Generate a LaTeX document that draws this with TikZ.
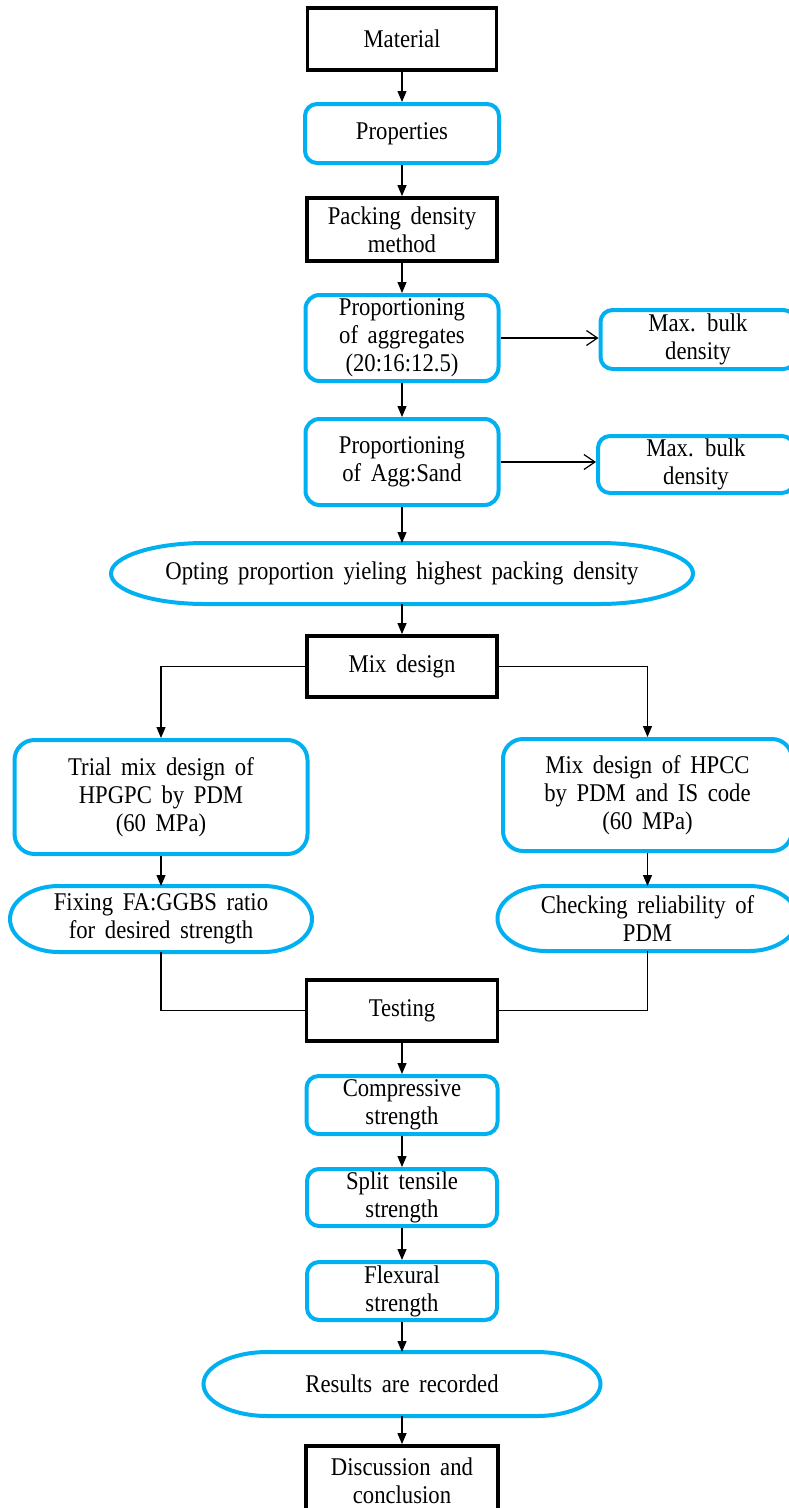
\documentclass[tikz,border=0pt]{standalone}
\usepackage{fontspec}
\setmainfont[FakeStretch=0.89,WordSpace=1.7]{Liberation Serif}
\usetikzlibrary{arrows.meta,calc}
\definecolor{boxblue}{RGB}{0,176,240}

% outline of a terminator box round a named node
\newcommand{\termoutline}[1]{%
  \draw[boxblue,line width=4pt] let \p1=(#1.north west), \p2=(#1.south east),
    \n1={0.161*(\x2-\x1)}, \n2={0.5*(\y1-\y2)} in
    (\x1+\n1,\y1) -- (\x2-\n1,\y1)
    arc[start angle=90,end angle=-90,x radius=\n1,y radius=\n2]
    -- (\x1+\n1,\y2)
    arc[start angle=270,end angle=90,x radius=\n1,y radius=\n2] -- cycle;}

\begin{document}
\begin{tikzpicture}[x=1pt,y=-1pt,
  every node/.style={font=\fontsize{25.5}{28}\selectfont,align=center,inner sep=0pt},
  blackbox/.style={draw=black,line width=3.8pt,rectangle},
  bluebox/.style={draw=boxblue,line width=4pt,rectangle,rounded corners=#1},
  bluebox/.default=12pt,
  termbox/.style={rectangle,outer sep=2pt},
  arr/.style={-{Triangle[length=11pt,width=9pt]},line width=1.2pt},
  openarr/.style={-{Straight Barb[length=11pt,width=15pt]},line width=1.2pt},
  link/.style={line width=1.2pt}]
\useasboundingbox (0,0) rectangle (789,1508);
\clip (0,0) rectangle (789,1508);
%%
\node[blackbox,minimum width=189pt,minimum height=62pt] (mat) at (402,39) {Material};
\node[bluebox,minimum width=194pt,minimum height=59pt] (prop) at (402,133.5) {Properties};
\node[blackbox,minimum width=190pt,minimum height=63pt] (pdm) at (402,229.5) {Packing density\\method};
\node[bluebox=14pt,minimum width=193pt,minimum height=86pt] (agg) at (402,338) {Proportioning\\of aggregates\\(20:16:12.5)};
\node[bluebox,minimum width=195pt,minimum height=59pt] (bulka) at (698,339.5) {Max. bulk\\density};
\node[bluebox=14pt,minimum width=193pt,minimum height=86pt] (sand) at (402,462) {Proportioning\\of Agg:Sand};
\node[bluebox,minimum width=196pt,minimum height=57pt] (bulkb) at (696,464.5) {Max. bulk\\density};
\node[termbox,minimum width=578pt,minimum height=57pt] (opt) at (402,573.5) {Opting proportion yieling highest packing density};
\node[blackbox,minimum width=190pt,minimum height=61pt] (mix) at (402,666.5) {Mix design};
\node[bluebox=20pt,minimum width=293pt,minimum height=114pt] (trial) at (161,797) {Trial mix design of\\HPGPC by PDM\\(60 MPa)};
\node[bluebox=20pt,minimum width=289pt,minimum height=112pt] (hpcc) at (647.5,795) {Mix design of HPCC\\by PDM and IS code\\(60 MPa)};
\node[termbox,minimum width=298pt,minimum height=62pt] (fix) at (161,919) {Fixing FA:GGBS ratio\\for desired strength};
\node[termbox,minimum width=296pt,minimum height=61pt] (chk) at (647.5,918.5) {Checking reliability of\\PDM};
\node[blackbox,minimum width=191pt,minimum height=61pt] (test) at (402,1010.5) {Testing};
\node[bluebox,minimum width=191pt,minimum height=58pt] (comp) at (402,1105) {Compressive\\strength};
\node[bluebox,minimum width=190pt,minimum height=57pt] (split) at (402,1197.5) {Split tensile\\strength};
\node[bluebox,minimum width=190pt,minimum height=58pt] (flex) at (402,1291) {Flexural\\strength};
\node[termbox,minimum width=393pt,minimum height=60pt] (res) at (402,1384) {Results are recorded};
\node[blackbox,minimum width=192pt,minimum height=70pt] (disc) at (402,1481) {Discussion and\\conclusion};
%%
\termoutline{opt}
\termoutline{fix}
\termoutline{chk}
\termoutline{res}
%%
\draw[arr] (mat) -- (prop);
\draw[arr] (prop) -- (pdm);
\draw[arr] (pdm) -- (agg);
\draw[openarr] (agg.east) -- (agg.east -| bulka.west);
\draw[arr] (agg) -- (sand);
\draw[openarr] (sand.east) -- (sand.east -| bulkb.west);
\draw[arr] (sand) -- (opt);
\draw[arr] (opt) -- (mix);
\draw[arr] (mix.west) -| (trial.north);
\draw[arr] (mix.east) -| (hpcc.north);
\draw[arr] (trial) -- (fix);
\draw[arr] (hpcc) -- (chk);
\draw[link] (fix.south) |- (test.west);
\draw[link] (chk.south) |- (test.east);
\draw[arr] (test) -- (comp);
\draw[arr] (comp) -- (split);
\draw[arr] (split) -- (flex);
\draw[arr] (flex) -- (res);
\draw[arr] (res) -- (disc);
%
\end{tikzpicture}
\end{document}
